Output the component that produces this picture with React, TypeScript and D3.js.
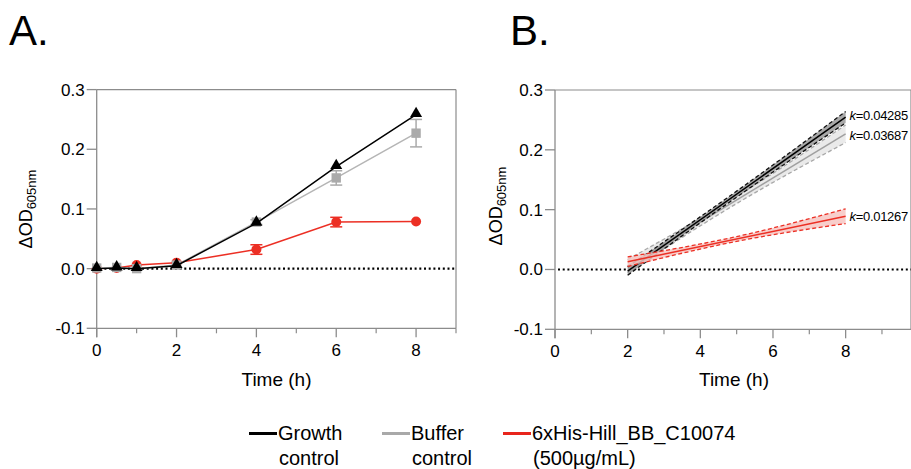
import React from "react";
import * as d3 from "d3";

// ---------- Data ----------
const timeA = [0, 0.5, 1, 2, 4, 6, 8];
const growthA = [0, 0.001, 0, 0.005, 0.076, 0.171, 0.258];
const bufferA = [0.001, 0.002, 0.0, 0.006, 0.078, 0.152, 0.227];
const bufferErr = [0, 0, 0, 0, 0.004, 0.012, 0.023];
const drugA = [0, 0.001, 0.006, 0.01, 0.032, 0.078, 0.079];
const drugErr = [0, 0, 0, 0, 0.008, 0.008, 0];

const fitX = [2, 5, 8];
const growthFit = { label: "k=0.04285", k: 0.04285, at2: -0.0026, band: [0.007, 0.005, 0.0095] };
const bufferFit = { label: "k=0.03687", k: 0.03687, at2: 0.0056, band: [0.011, 0.006, 0.0147] };
const drugFit = { label: "k=0.01267", k: 0.01267, at2: 0.013, band: [0.008, 0.004, 0.0123] };

const yTicks = [-0.1, 0.0, 0.1, 0.2, 0.3];
const xTicksA = [0, 2, 4, 6, 8];
const xMinorA = [1, 3, 5, 7, 9];
const xTicksB = [0, 2, 4, 6, 8, 10];
const xMinorB = [1, 3, 5, 7, 9];

const legendItems = [
  { l1: "Growth", l2: "control", color: "#000000", x: 249 },
  { l1: "Buffer", l2: "control", color: "#a9a9a9", x: 382 },
  { l1: "6xHis-Hill_BB_C10074", l2: "(500µg/mL)", color: "#e8251c", x: 503 },
];

const FONT = "'Liberation Sans', Arial, Helvetica, sans-serif";
const AXIS = "#8c8c8c";
const RED = "#ec2f24";
const GRAY = "#aaaaaa";

function Axes({ x, y, xTicks, xMinor, xRight, labelY }: any) {
  const [x0] = x.range();
  const yTop = y(0.3);
  const yBot = y(-0.1);
  return (
    <g>
      <line x1={x0} x2={xRight} y1={yTop} y2={yTop} stroke={AXIS} strokeWidth={1.2} />
      <line x1={xRight} x2={xRight} y1={yTop} y2={yBot} stroke={AXIS} strokeWidth={1.2} />
      <line x1={x0} x2={x0} y1={yTop} y2={yBot + 9} stroke={AXIS} strokeWidth={1.3} />
      <line x1={x0} x2={xRight} y1={yBot} y2={yBot} stroke={AXIS} strokeWidth={1.3} />
      {yTicks.map((t) => (
        <g key={t}>
          <line x1={x0 - 10} x2={x0} y1={y(t)} y2={y(t)} stroke={AXIS} strokeWidth={1.3} />
          <text x={x0 - 12} y={y(t) + 6} textAnchor="end" fontSize={17} fontFamily={FONT}>
            {d3.format(".1f")(t).replace("−", "-")}
          </text>
        </g>
      ))}
      {xTicks.map((t: number) => (
        <g key={t}>
          <line x1={x(t)} x2={x(t)} y1={yBot} y2={yBot + 9} stroke={AXIS} strokeWidth={1.3} />
          {x(t) < 911 && (
            <text x={x(t)} y={yBot + 28} textAnchor="middle" fontSize={17} fontFamily={FONT}>
              {t}
            </text>
          )}
        </g>
      ))}
      {xMinor.map((t: number) => (
        <line key={t} x1={x(t)} x2={x(t)} y1={yBot} y2={yBot + 5} stroke={AXIS} strokeWidth={1.2} />
      ))}
      <line x1={x0 + 3} x2={xRight} y1={y(0)} y2={y(0)} stroke="#000" strokeWidth={2.2} strokeDasharray="2 2.7" />
    </g>
  );
}

function YLabel({ x, y }: { x: number; y: number }) {
  return (
    <text transform={`translate(${x},${y}) rotate(-90)`} textAnchor="middle" fontFamily={FONT} fontSize={18}>
      ΔOD
      <tspan fontSize={13} dy={4}>605nm</tspan>
    </text>
  );
}

function ErrorBars({ x, y, vals, errs, color }: any) {
  return (
    <g>
      {timeA.map((t, i) =>
        errs[i] > 0 ? (
          <g key={i} stroke={color} strokeWidth={1.5}>
            <line x1={x(t)} x2={x(t)} y1={y(vals[i] - errs[i])} y2={y(vals[i] + errs[i])} />
            <line x1={x(t) - 6} x2={x(t) + 6} y1={y(vals[i] - errs[i])} y2={y(vals[i] - errs[i])} />
            <line x1={x(t) - 6} x2={x(t) + 6} y1={y(vals[i] + errs[i])} y2={y(vals[i] + errs[i])} />
          </g>
        ) : null
      )}
    </g>
  );
}

function PanelA() {
  const x = d3.scaleLinear().domain([0, 9]).range([96.7, 456]);
  const y = d3.scaleLinear().domain([-0.1, 0.3]).range([328.3, 89.6]);
  const line = (vals: number[]) =>
    d3.line<number>().x((_, i) => x(timeA[i])).y((v) => y(v))(vals) || "";
  const tri = d3.symbol().type(d3.symbolTriangle).size(62)() || "";
  const sq = d3.symbol().type(d3.symbolSquare).size(88)() || "";
  return (
    <g>
      <Axes x={x} y={y} xTicks={xTicksA} xMinor={xMinorA} xRight={456} />
      <path d={line(drugA)} fill="none" stroke={RED} strokeWidth={1.5} />
      <ErrorBars x={x} y={y} vals={drugA} errs={drugErr} color={RED} />
      {drugA.map((v, i) => (
        <circle key={i} cx={x(timeA[i])} cy={y(v)} r={5} fill={RED} />
      ))}
      <path d={line(bufferA)} fill="none" stroke="#b5b5b5" strokeWidth={1.5} />
      <ErrorBars x={x} y={y} vals={bufferA} errs={bufferErr} color={GRAY} />
      {bufferA.map((v, i) => (
        <path key={i} d={sq} transform={`translate(${x(timeA[i])},${y(v)})`} fill={GRAY} />
      ))}
      <path d={line(growthA)} fill="none" stroke="#000" strokeWidth={1.5} />
      {growthA.map((v, i) => (
        <path key={i} d={tri} transform={`translate(${x(timeA[i])},${y(v) - 1})`} fill="#000" />
      ))}
      <YLabel x={32} y={209} />
      <text x={276.5} y={386} textAnchor="middle" fontSize={19} fontFamily={FONT}>Time (h)</text>
    </g>
  );
}

function PanelB() {
  const x = d3.scaleLinear().domain([0, 10]).range([555, 918.3]);
  const y = d3.scaleLinear().domain([-0.1, 0.3]).range([329.3, 90]);
  const fits = [
    { f: bufferFit, fill: "#e6e6e6", dash: "#a8a8a8", solid: "#a0a0a0" },
    { f: growthFit, fill: "#9a9a9a", dash: "#111", solid: "#000" },
    { f: drugFit, fill: "#f7c6c2", dash: RED, solid: RED },
  ];
  const center = (f: any, t: number) => f.at2 + f.k * (t - 2);
  const pts = (f: any, sign: number) => fitX.map((t, i) => [t, center(f, t) + sign * f.band[i]] as [number, number]);
  const ln = d3.line<[number, number]>().x((d) => x(d[0])).y((d) => y(d[1])).curve(d3.curveMonotoneX);
  const area = d3
    .area<number>()
    .x((t) => x(t))
    .y0((_, i) => y(0))
    .curve(d3.curveMonotoneX);
  return (
    <g>
      <Axes x={x} y={y} xTicks={xTicksB} xMinor={xMinorB} xRight={911} />
      {fits.map(({ f, fill, dash, solid }, k) => {
        const upper = pts(f, 1);
        const lower = pts(f, -1);
        const bandPath =
          d3
            .area<number>()
            .x((t) => x(t))
            .y0((_, i) => y(lower[i][1]))
            .y1((_, i) => y(upper[i][1]))
            .curve(d3.curveMonotoneX)(fitX) || "";
        return (
          <g key={k}>
            <path d={bandPath} fill={fill} opacity={0.85} />
            <path d={ln(upper) || ""} fill="none" stroke={dash} strokeWidth={1.3} strokeDasharray="4 2.5" />
            <path d={ln(lower) || ""} fill="none" stroke={dash} strokeWidth={1.3} strokeDasharray="4 2.5" />
            <line x1={x(2)} x2={x(8)} y1={y(center(f, 2))} y2={y(center(f, 8))} stroke={solid} strokeWidth={1.5} />
          </g>
        );
      })}
      {[
        { f: growthFit, yy: 119.5 },
        { f: bufferFit, yy: 139.5 },
        { f: drugFit, yy: 220.5 },
      ].map(({ f, yy }, i) => (
        <text key={i} x={849.5} y={yy} fontSize={13} fontFamily={FONT} letterSpacing={-0.3}>
          <tspan fontStyle="italic">k</tspan>
          {f.label.slice(1)}
        </text>
      ))}
      <YLabel x={501.5} y={206} />
      <text x={734} y={386} textAnchor="middle" fontSize={19} fontFamily={FONT}>Time (h)</text>
    </g>
  );
}

function Legend() {
  return (
    <g fontFamily={FONT} fontSize={20}>
      {legendItems.map((it, i) => (
        <g key={i}>
          <line x1={it.x} x2={it.x + 28} y1={433.5} y2={433.5} stroke={it.color} strokeWidth={3} />
          <text x={it.x + 29} y={440}>{it.l1}</text>
          <text x={it.x + 30} y={464.5}>{it.l2}</text>
        </g>
      ))}
    </g>
  );
}

export default function App() {
  return (
    <svg
      width={911}
      height={469}
      style={{ position: "absolute", left: 0, top: 0, background: "#fff" }}
      fontFamily={FONT}
    >
      <rect width={911} height={469} fill="#fff" />
      <text x={9} y={45} fontSize={42} fontFamily={FONT}>A.</text>
      <text x={510} y={45} fontSize={42} fontFamily={FONT}>B.</text>
      <PanelA />
      <PanelB />
      <Legend />
    </svg>
  );
}
